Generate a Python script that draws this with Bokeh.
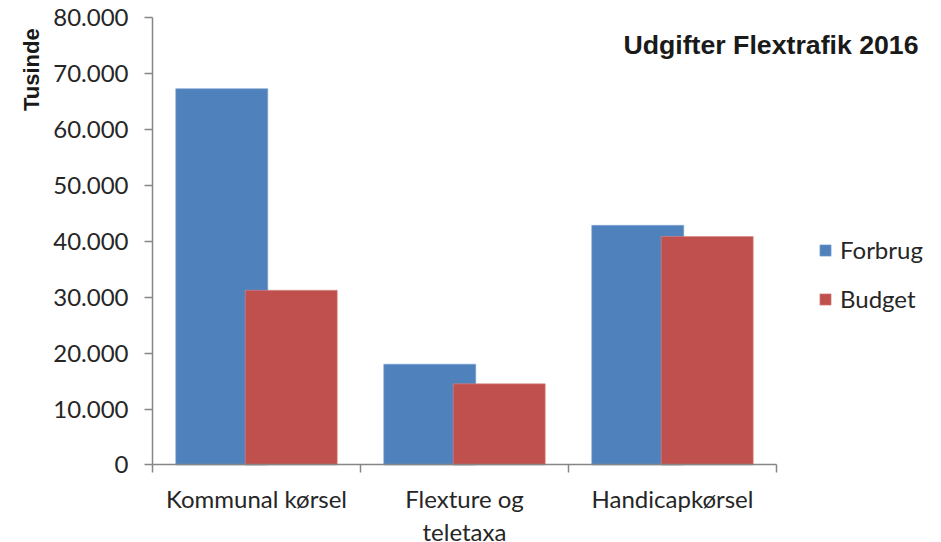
from bokeh.plotting import figure
from bokeh.models import (Range1d, FixedTicker, Label, LabelSet, ColumnDataSource,
                          Legend, LegendItem, LinearAxis)
from bokeh.core.properties import value
from bokeh.embed import file_html
from bokeh.resources import INLINE

# ---- data ----
categories = ["Kommunal kørsel", "Flexture og\nteletaxa", "Handicapkørsel"]
forbrug = [67200, 18000, 42800]
budget = [31200, 14500, 40800]
series_names = ["Forbrug", "Budget"]
y_ticks = [0, 10000, 20000, 30000, 40000, 50000, 60000, 70000, 80000]
y_tick_labels = ["0", "10.000", "20.000", "30.000", "40.000", "50.000",
                 "60.000", "70.000", "80.000"]
chart_title = "Udgifter Flextrafik 2016"
y_title = "Tusinde"

# ---- style ----
BLUE = "#4F81BD"
RED = "#C0504D"
AXIS = "#868686"
TEXT = "#262626"
FONT = "Lato"
BAR_W = 0.4423
OFF = 0.167
LINE_GAP = 33

n = len(categories)
centers = [i + 0.5 for i in range(n)]

# the frame fills the whole canvas; axes are pinned at the data origin
p = figure(width=941, height=542, output_backend="svg", toolbar_location=None,
           x_range=Range1d(-0.7308, 3.7933), y_range=Range1d(-13840, 82950),
           x_axis_location=None, y_axis_location=None, title=None,
           min_border=0, min_border_left=0, min_border_right=0,
           min_border_top=0, min_border_bottom=0)
p.outline_line_color = None
p.background_fill_color = "white"
p.border_fill_color = "white"
for g in p.grid:
    g.visible = False
p.xgrid.grid_line_color = None
p.ygrid.grid_line_color = None

src_f = ColumnDataSource(dict(x=[c - OFF for c in centers], top=forbrug))
src_b = ColumnDataSource(dict(x=[c + OFF for c in centers], top=budget))
r_f = p.vbar(x="x", top="top", width=BAR_W, source=src_f, fill_color=BLUE,
             line_color="#7FA3D1", line_width=0.6)
r_b = p.vbar(x="x", top="top", width=BAR_W, source=src_b, fill_color=RED,
             line_color="#D88A88", line_width=0.6)

# y axis
ya = LinearAxis(fixed_location=0, bounds=(y_ticks[0], y_ticks[-1]))
ya.ticker = FixedTicker(ticks=y_ticks, minor_ticks=[])
ya.major_label_overrides = {t: l for t, l in zip(y_ticks, y_tick_labels)}
ya.major_label_text_font = FONT
ya.major_label_text_font_size = "24px"
ya.major_label_text_color = TEXT
ya.major_label_standoff = 16
ya.major_tick_out = 8
ya.major_tick_in = 0
ya.minor_tick_out = 0
ya.minor_tick_in = 0
ya.axis_line_color = AXIS
ya.major_tick_line_color = AXIS
ya.axis_line_width = 1.5
ya.major_tick_line_width = 1.5
p.add_layout(ya, "left")

# x axis: category boundary ticks only
xa = LinearAxis(fixed_location=0, bounds=(0, n))
xa.ticker = FixedTicker(ticks=list(range(n + 1)), minor_ticks=[])
xa.major_label_overrides = {i: "" for i in range(n + 1)}
xa.major_label_text_font_size = "1px"
xa.major_tick_out = 8
xa.major_tick_in = 0
xa.minor_tick_out = 0
xa.minor_tick_in = 0
xa.axis_line_color = AXIS
xa.major_tick_line_color = AXIS
xa.axis_line_width = 1.5
xa.major_tick_line_width = 1.5
p.add_layout(xa, "below")

# category labels (each line centred on its own)
lx, ly, lt, loff = [], [], [], []
for c, cat in zip(centers, categories):
    for k, line in enumerate(cat.split("\n")):
        lx.append(c)
        ly.append(0)
        lt.append(line)
        loff.append(-19 - k * LINE_GAP)
cat_src = ColumnDataSource(dict(x=lx, y=ly, text=lt, yoff=loff))
p.add_layout(LabelSet(x="x", y="y", text="text", source=cat_src,
                      y_offset="yoff", text_align="center", text_baseline="top",
                      text_font=value(FONT), text_font_size=value("24px"),
                      text_color=value(TEXT)))

# title
p.add_layout(Label(x=3.683, y=75000, text=chart_title, text_align="right",
                   text_baseline="middle", text_font="Liberation Sans",
                   text_font_style="bold", text_font_size="26.7px",
                   text_color="#1a1a1a"))

# y axis title
p.add_layout(Label(x=-0.58, y=70600, text=y_title, angle=1.5707963,
                   text_align="center", text_baseline="middle",
                   text_font="Liberation Sans", text_font_style="bold",
                   text_font_size="22px", text_color="#1a1a1a"))

legend = Legend(items=[LegendItem(label=series_names[0], renderers=[r_f]),
                       LegendItem(label=series_names[1], renderers=[r_b])],
                location=(818, 229), orientation="vertical",
                glyph_width=14, glyph_height=14, label_standoff=8,
                spacing=20, padding=0, margin=0,
                label_text_font=FONT, label_text_font_size="24px",
                label_text_color=TEXT, border_line_color=None,
                background_fill_alpha=0)
p.add_layout(legend, "center")

open("out.html", "w").write(file_html(p, INLINE))
